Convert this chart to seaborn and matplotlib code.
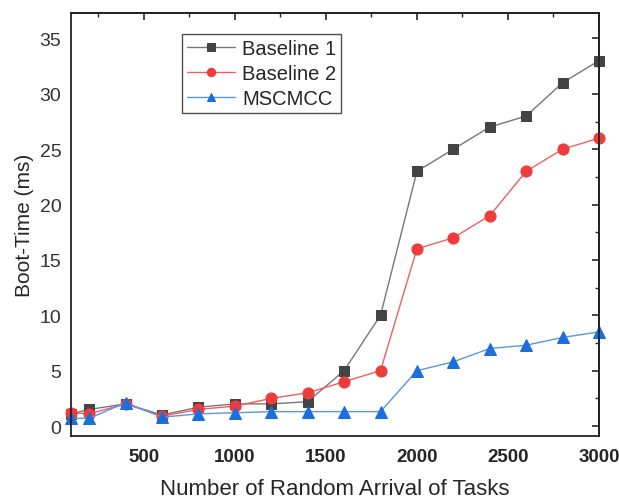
import matplotlib
matplotlib.use("Agg")
import matplotlib.pyplot as plt
import seaborn as sns
import pandas as pd
from matplotlib.ticker import MultipleLocator

tasks = [100, 200, 400, 600, 800, 1000, 1200, 1400, 1600, 1800, 2000, 2200, 2400, 2600, 2800, 3000]
baseline1 = [1.1, 1.5, 2.0, 1.0, 1.7, 2.0, 2.0, 2.2, 5.0, 10.0, 23.0, 25.0, 27.0, 28.0, 31.0, 33.0]
baseline2 = [1.2, 1.1, 2.0, 0.9, 1.5, 1.8, 2.5, 3.0, 4.0, 5.0, 16.0, 17.0, 19.0, 23.0, 25.0, 26.0]
mscmcc = [0.7, 0.7, 2.1, 0.8, 1.1, 1.2, 1.3, 1.3, 1.3, 1.3, 5.0, 5.8, 7.0, 7.3, 8.0, 8.5]
series_names = ["Baseline 1", "Baseline 2", "MSCMCC"]

sns.set_style("white")
plt.rcParams['font.family'] = ['Liberation Sans', 'DejaVu Sans']

fig = plt.figure(figsize=(6.19, 5.02), dpi=100)
ax = fig.add_axes([71/619, 65/502, (599-71)/619, (437-14)/502])

styles = [
    dict(color="#444444", line="#777777", marker="s", ms=7),
    dict(color="#ee3b3b", line="#f06060", marker="o", ms=8),
    dict(color="#1a6fdc", line="#5a95e6", marker="^", ms=9),
]
for name, vals, st in zip(series_names, [baseline1, baseline2, mscmcc], styles):
    df = pd.DataFrame({"x": tasks, "y": vals})
    sns.lineplot(data=df, x="x", y="y", ax=ax, color=st["line"], lw=1.0,
                 marker=st["marker"], markersize=st["ms"], markerfacecolor=st["color"],
                 markeredgecolor=st["color"], label=name, clip_on=False)

ax.set_xlim(100, 3000)
ax.set_ylim(-0.9, 37.3)
ax.xaxis.set_major_locator(MultipleLocator(500))
ax.xaxis.set_minor_locator(MultipleLocator(250))
ax.yaxis.set_major_locator(MultipleLocator(5))
ax.yaxis.set_minor_locator(MultipleLocator(2.5))
ax.tick_params(axis='both', which='major', direction='out', length=5, width=1.2, color="#222222")
ax.tick_params(axis='both', which='minor', direction='out', length=3, width=1.0, color="#222222")
ax.tick_params(axis='y', labelsize=14, labelcolor="#333333", pad=2)
ax.tick_params(axis='x', labelsize=13.5, pad=4)
for lab in ax.get_xticklabels():
    lab.set_fontweight('bold')
for s in ax.spines.values():
    s.set_linewidth(1.3)
    s.set_color("#222222")

secx = ax.secondary_xaxis('top')
secx.xaxis.set_major_locator(MultipleLocator(500))
secx.xaxis.set_minor_locator(MultipleLocator(250))
secx.tick_params(which='major', direction='in', length=5, width=1.2, labeltop=False)
secx.tick_params(which='minor', direction='in', length=3, width=1.0)
secx.spines['top'].set_linewidth(1.3)
secy = ax.secondary_yaxis('right')
secy.yaxis.set_major_locator(MultipleLocator(5))
secy.yaxis.set_minor_locator(MultipleLocator(2.5))
secy.tick_params(which='major', direction='in', length=5, width=1.2, labelright=False)
secy.tick_params(which='minor', direction='in', length=3, width=1.0)
secy.spines['right'].set_linewidth(1.3)

ax.set_xlabel("Number of Random Arrival of Tasks", fontsize=16, labelpad=9)
ax.set_ylabel("Boot-Time (ms)", fontsize=15, labelpad=4)

leg = ax.legend(loc='upper left', bbox_to_anchor=(0.210, 0.95), fontsize=14.5, frameon=True,
                fancybox=False, edgecolor="#222222", handlelength=2.4, borderpad=0.25,
                labelspacing=0.3, handletextpad=0.35, borderaxespad=0)
leg.get_frame().set_linewidth(1.0)
for h in leg.legend_handles:
    h.set_markersize(6)

fig.savefig("out.png", dpi=100)
